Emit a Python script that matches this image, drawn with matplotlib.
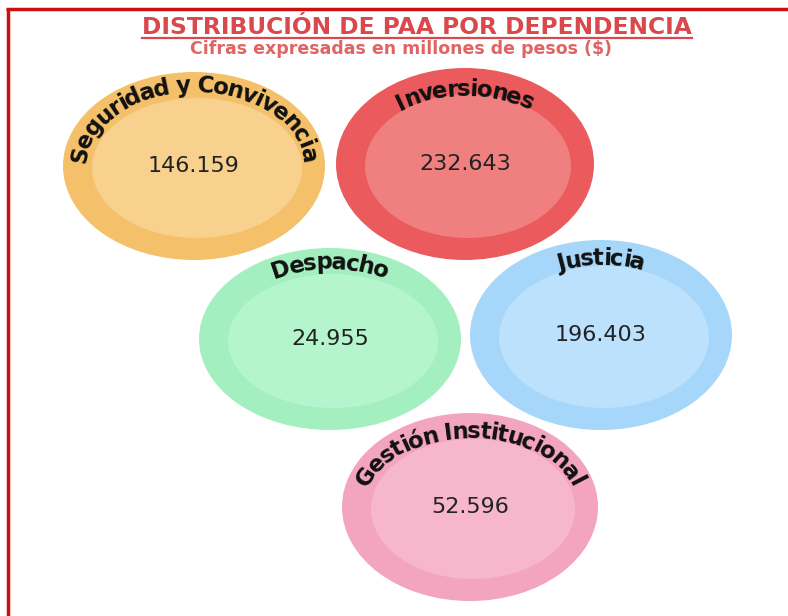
import numpy as np
import matplotlib
matplotlib.use("Agg")
import matplotlib.pyplot as plt
from matplotlib.patches import Ellipse
from matplotlib.font_manager import FontProperties, findfont, get_font

# datos
dependencias = ["Seguridad y Convivencia", "Inversiones", "Despacho",
                "Justicia", "Gestión Institucional"]
valores = ["146.159", "232.643", "24.955", "196.403", "52.596"]

# layout (pixeles, y hacia abajo como en la imagen)
centros = [(194, 166), (465, 164), (330, 339), (601, 335), (470, 507)]
radios = [(131, 94), (129, 96), (131, 91), (131, 95), (128, 94)]
radio_texto = [(108, 74), (104, 68), (104, 70), (104, 70), (106, 69)]
col_ext = ["#f4c06a", "#eb5a5c", "#a4efc0", "#a6d7fa", "#f3a5bf"]
col_int = ["#f7d18d", "#f07f80", "#b4f5ce", "#bbe1fc", "#f6b7cd"]

W, H = 788, 616
DPI = 100


def texto_curvo(ax, cx, cy, a, b, texto, size, track=0.89):
    prop = FontProperties(family="DejaVu Sans", weight="bold", size=size)
    font = get_font(findfont(prop))
    font.set_size(size, 72)
    adv = []
    for ch in texto:
        g = font.load_char(ord(ch))
        adv.append(g.linearHoriAdvance / 65536 * DPI / 72 * track)
    adv = np.array(adv)
    L = adv.sum()
    pos = np.cumsum(adv) - adv / 2 - L / 2
    # longitud de arco desde el punto superior, sentido horario
    t = np.linspace(np.pi / 2 + np.pi, np.pi / 2 - np.pi, 4000)
    x = cx + a * np.cos(t)
    y = cy + b * np.sin(t)
    ds = np.hypot(np.diff(x), np.diff(y))
    s = np.concatenate([[0], np.cumsum(ds)])
    s = s - np.interp(np.pi / 2, t[::-1], s[::-1])
    for ch, p in zip(texto, pos):
        tt = np.interp(p, s, t)
        px = cx + a * np.cos(tt)
        py = cy + b * np.sin(tt)
        ang = np.degrees(np.arctan2(-b * np.cos(tt), a * np.sin(tt)))
        ax.text(px, py, ch, fontproperties=prop, color="#111111",
                rotation=ang, rotation_mode="anchor",
                ha="center", va="baseline")


fig = plt.figure(figsize=(W / DPI, H / DPI), dpi=DPI)
ax = fig.add_axes([0, 0, 1, 1])
ax.set_xlim(0, W)
ax.set_ylim(0, H)
ax.set_aspect("equal")
ax.axis("off")

# marco rojo
ax.plot([6, W], [H - 9, H - 9], color="#cc1010", lw=2.5, solid_capstyle="butt")
ax.plot([8, 8], [H - 8, 0], color="#cc1010", lw=2.5, solid_capstyle="butt")

for i, nombre in enumerate(dependencias):
    cx, cy = centros[i]
    cy = H - cy
    a, b = radios[i]
    ax.add_patch(Ellipse((cx, cy), 2 * a, 2 * b, facecolor=col_ext[i],
                         edgecolor="none"))
    ax.add_patch(Ellipse((cx + 3, cy - 2), 2 * (a - 26), 2 * (b - 24),
                         facecolor=col_int[i], edgecolor="none"))
    ax.text(cx, cy, valores[i], ha="center", va="center", fontsize=16,
            family="DejaVu Sans", color="#222222")
    at, bt = radio_texto[i]
    texto_curvo(ax, cx, cy, at, bt, nombre, 16.5)

titulo = ax.text(417, H - 34, "DISTRIBUCIÓN DE PAA POR DEPENDENCIA",
                 ha="center", va="baseline", fontsize=16.8, fontweight="bold",
                 family="DejaVu Sans", color="#d9484c")
ax.text(401, H - 54, "Cifras expresadas en millones de pesos ($)",
        ha="center", va="baseline", fontsize=12.5, fontweight="bold",
        family="DejaVu Sans", color="#e06464")

fig.canvas.draw()
bb = titulo.get_window_extent().transformed(ax.transData.inverted())
ax.plot([bb.x0, bb.x1], [H - 37.5, H - 37.5], color="#d9484c", lw=1.6)

fig.savefig("out.png", dpi=DPI)
